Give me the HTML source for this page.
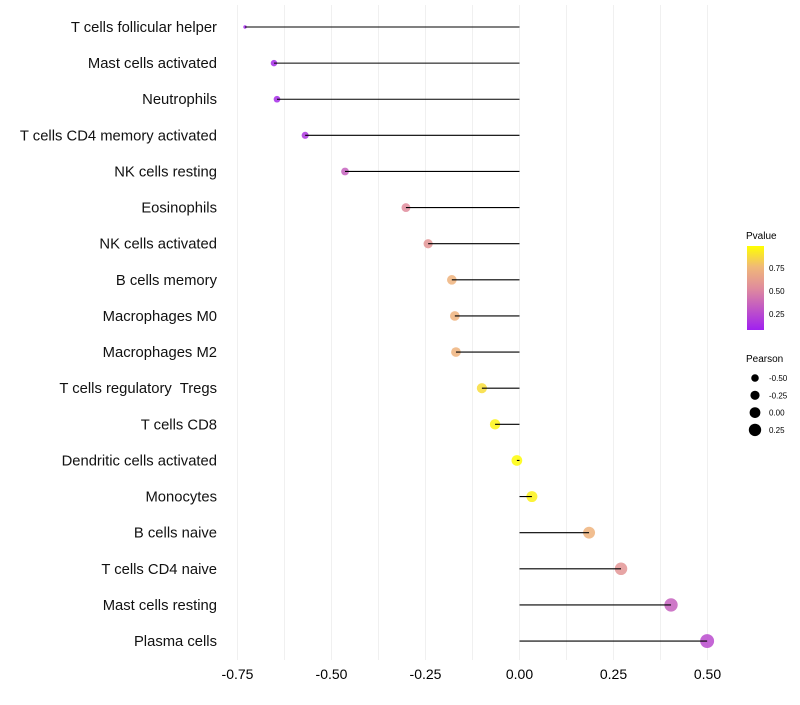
<!DOCTYPE html>
<html><head><meta charset="utf-8"><style>
body{margin:0;background:#fff;font-family:"Liberation Sans",sans-serif}
</style></head><body>
<svg id="chart" width="800" height="700" xmlns="http://www.w3.org/2000/svg">
<defs><linearGradient id="pg" x1="0" y1="1" x2="0" y2="0">
<stop offset="0" stop-color="#a020f0"/><stop offset="0.5" stop-color="#e08c9c"/><stop offset="0.75" stop-color="#f0b878"/><stop offset="1" stop-color="#ffff00"/>
</linearGradient></defs>
<g id="grid"></g><g id="marks"></g><g id="labels"></g>
<g font-size="10" fill="#000">
<text x="746" y="239">Pvalue</text>
<rect x="747" y="246" width="17" height="84" fill="url(#pg)"/>
<text x="769" y="271" font-size="8">0.75</text>
<text x="769" y="294" font-size="8">0.50</text>
<text x="769" y="317" font-size="8">0.25</text>
<text x="746" y="362">Pearson</text>
<g id="sizeleg"></g>
</g>
</svg>
<script>
const categories=["T cells follicular helper","Mast cells activated","Neutrophils","T cells CD4 memory activated","NK cells resting","Eosinophils","NK cells activated","B cells memory","Macrophages M0","Macrophages M2","T cells regulatory  Tregs","T cells CD8","Dendritic cells activated","Monocytes","B cells naive","T cells CD4 naive","Mast cells resting","Plasma cells"];
const pearson=[-0.730,-0.653,-0.645,-0.570,-0.464,-0.302,-0.243,-0.180,-0.172,-0.169,-0.100,-0.065,-0.007,0.033,0.185,0.270,0.403,0.499];
const pvalue=[0.02,0.05,0.05,0.1,0.3,0.5,0.55,0.72,0.72,0.72,0.88,0.96,0.99,0.95,0.72,0.55,0.3,0.2];
const xTicks=[-0.75,-0.5,-0.25,0,0.25,0.5];
const xTickLabels=["-0.75","-0.50","-0.25","0.00","0.25","0.50"];
const sizeLegend=[-0.5,-0.25,0,0.25];
const sizeLegendLabels=["-0.50","-0.25","0.00","0.25"];
const NS="http://www.w3.org/2000/svg";
const x=v=>519.5+v*376;
const y=i=>27+i*36.12;
const r=v=>v< -0.65 ? 1.7+Math.max(0,v+0.73)*20 : 3.3+(v+0.65)*3.2;
const stops=[[0,[160,32,240]],[0.5,[224,140,156]],[0.75,[240,184,120]],[1,[255,255,0]]];
function col(p){for(let k=1;k<stops.length;k++){if(p<=stops[k][0]){const a=stops[k-1],b=stops[k],t=(p-a[0])/(b[0]-a[0]);return "rgb("+a[1].map((c,j)=>Math.round(c+(b[1][j]-c)*t)).join(",")+")";}}return "rgb(255,255,0)";}
function mk(t,at,parent){const e=document.createElementNS(NS,t);for(const k in at)e.setAttribute(k,at[k]);parent.appendChild(e);return e;}
const grid=document.getElementById('grid'),marks=document.getElementById('marks'),labels=document.getElementById('labels');
for(let v=-0.75;v<=0.51;v+=0.125){const l=mk('line',{x1:x(v),x2:x(v),y1:5,y2:660,stroke:'#f0f0f0','stroke-width':1},grid);

}
xTicks.forEach((v,i)=>{const t=mk('text',{x:x(v),y:679,'text-anchor':'middle','font-size':14,fill:'#000'},labels);t.textContent=xTickLabels[i];

});
categories.forEach((c,i)=>{
const t=mk('text',{x:217,y:y(i)+5,'text-anchor':'end','font-size':14.8,fill:'#111',style:'white-space:pre'},labels);t.textContent=c;


const ci=mk('circle',{cx:x(pearson[i]),cy:y(i),r:r(pearson[i]),fill:col(pvalue[i]),'fill-opacity':0.85},marks);


const l=mk('line',{x1:x(0),x2:x(pearson[i]),y1:y(i),y2:y(i),stroke:'#000','stroke-width':1.1},marks);


});
const sl=document.getElementById('sizeleg');
const lr=[3.7,4.7,5.7,6.7];
sizeLegend.forEach((v,i)=>{const yy=378+i*17.3;
const c=mk('circle',{cx:755,cy:yy,r:r(v),fill:'#000'},sl);


const t=mk('text',{x:769,y:yy+3,'font-size':8},sl);t.textContent=sizeLegendLabels[i];

});
</script>
</body></html>
